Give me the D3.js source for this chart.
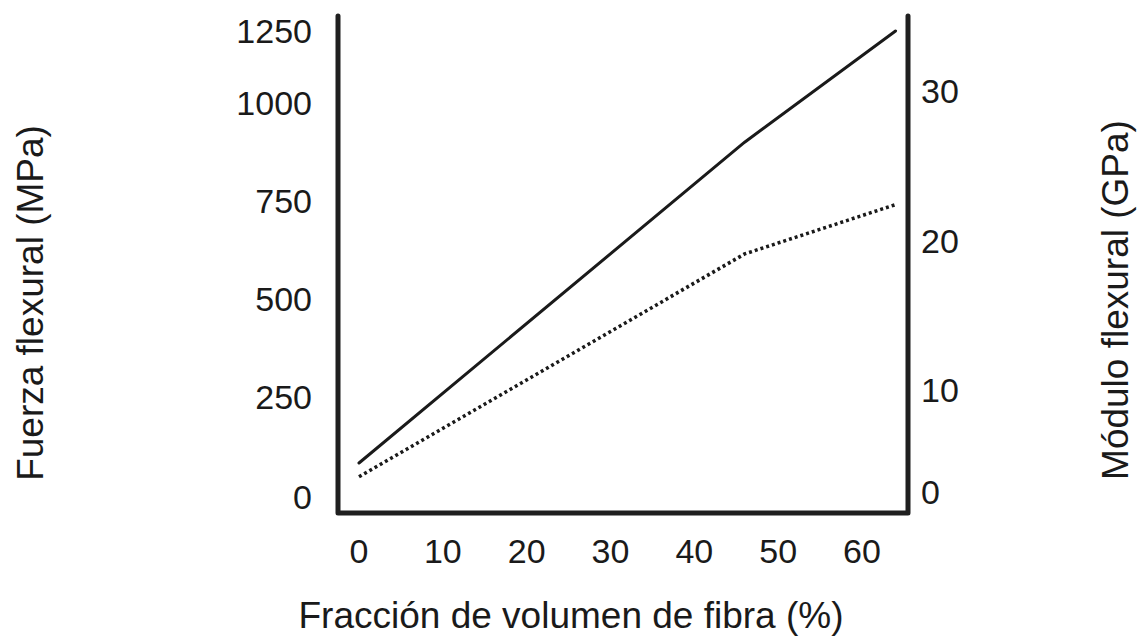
<!DOCTYPE html>
<html>
<head>
<meta charset="utf-8">
<script src="https://cdn.jsdelivr.net/npm/d3@7"></script>
<style>
  body { margin: 0; background: #fff; }
  text { font-family: "Liberation Sans", Arial, Helvetica, sans-serif; fill: #1a1a1a; }
</style>
</head>
<body>
<div id="chart"></div>
<script>
// fibre volume fraction (%) and readings from the picture
var fibre = [0, 46, 64];
var strength = [85, 900, 1250];   // MPa, solid line, left axis
var modulus = [1.5, 19.1, 22.4];  // GPa, dotted line, right axis

var xTicks = [0, 10, 20, 30, 40, 50, 60];
var leftTicks = [0, 250, 500, 750, 1000, 1250];
var rightTicks = [0, 10, 20, 30];

var w = 1146;
var h = 643;

var svg = d3.select("#chart")
            .append("svg")
            .attr("width", w)
            .attr("height", h);

var x = d3.scaleLinear()
          .domain([0, 60])
          .range([359, 862]);

// the printed axes are not evenly spaced at the ends, so the scales are piecewise
var yLeft = d3.scaleLinear()
              .domain([0, 250, 1000, 1250])
              .range([497, 397, 103, 31]);

var yRight = d3.scaleLinear()
               .domain([0, 10, 30])
               .range([492, 390, 91]);

var frameL = 338, frameR = 908, frameT = 16, frameB = 513;

// frame: left, bottom and right lines
svg.append("path")
   .attr("d", "M" + frameL + "," + frameT + "V" + frameB + "H" + frameR + "V" + frameT)
   .attr("fill", "none")
   .attr("stroke", "#1f1f1f")
   .attr("stroke-width", 5)
   .attr("stroke-linecap", "round")
   .attr("stroke-linejoin", "round");

// tick labels
svg.selectAll(".xl")
   .data(xTicks)
   .enter()
   .append("text")
   .attr("x", d => x(d))
   .attr("y", 563)
   .attr("text-anchor", "middle")
   .attr("font-size", 34)
   .text(d => d);

svg.selectAll(".yl")
   .data(leftTicks)
   .enter()
   .append("text")
   .attr("x", 312)
   .attr("y", d => yLeft(d) + 12)
   .attr("text-anchor", "end")
   .attr("font-size", 34)
   .text(d => d);

svg.selectAll(".yr")
   .data(rightTicks)
   .enter()
   .append("text")
   .attr("x", 921)
   .attr("y", d => yRight(d) + 12)
   .attr("text-anchor", "start")
   .attr("font-size", 34)
   .text(d => d);

// lines
var strengthLine = d3.line()
                     .x((d, i) => x(fibre[i]))
                     .y(d => yLeft(d));

var modulusLine = d3.line()
                    .x((d, i) => x(fibre[i]))
                    .y(d => yRight(d));

svg.append("path")
   .attr("d", strengthLine(strength))
   .attr("fill", "none")
   .attr("stroke", "#1a1a1a")
   .attr("stroke-width", 3)
   .attr("stroke-linecap", "round");

svg.append("path")
   .attr("d", modulusLine(modulus))
   .attr("fill", "none")
   .attr("stroke", "#1a1a1a")
   .attr("stroke-width", 3.5)
   .attr("stroke-dasharray", "3,3");

// axis titles
svg.append("text")
   .attr("x", 571)
   .attr("y", 628)
   .attr("text-anchor", "middle")
   .attr("font-size", 37)
   .text("Fracción de volumen de fibra (%)");

svg.append("text")
   .attr("transform", "translate(43,303) rotate(-90)")
   .attr("text-anchor", "middle")
   .attr("font-size", 37)
   .text("Fuerza flexural (MPa)");

svg.append("text")
   .attr("transform", "translate(1128,300) rotate(-90)")
   .attr("text-anchor", "middle")
   .attr("font-size", 37)
   .text("Módulo flexural (GPa)");
</script>
</body>
</html>
